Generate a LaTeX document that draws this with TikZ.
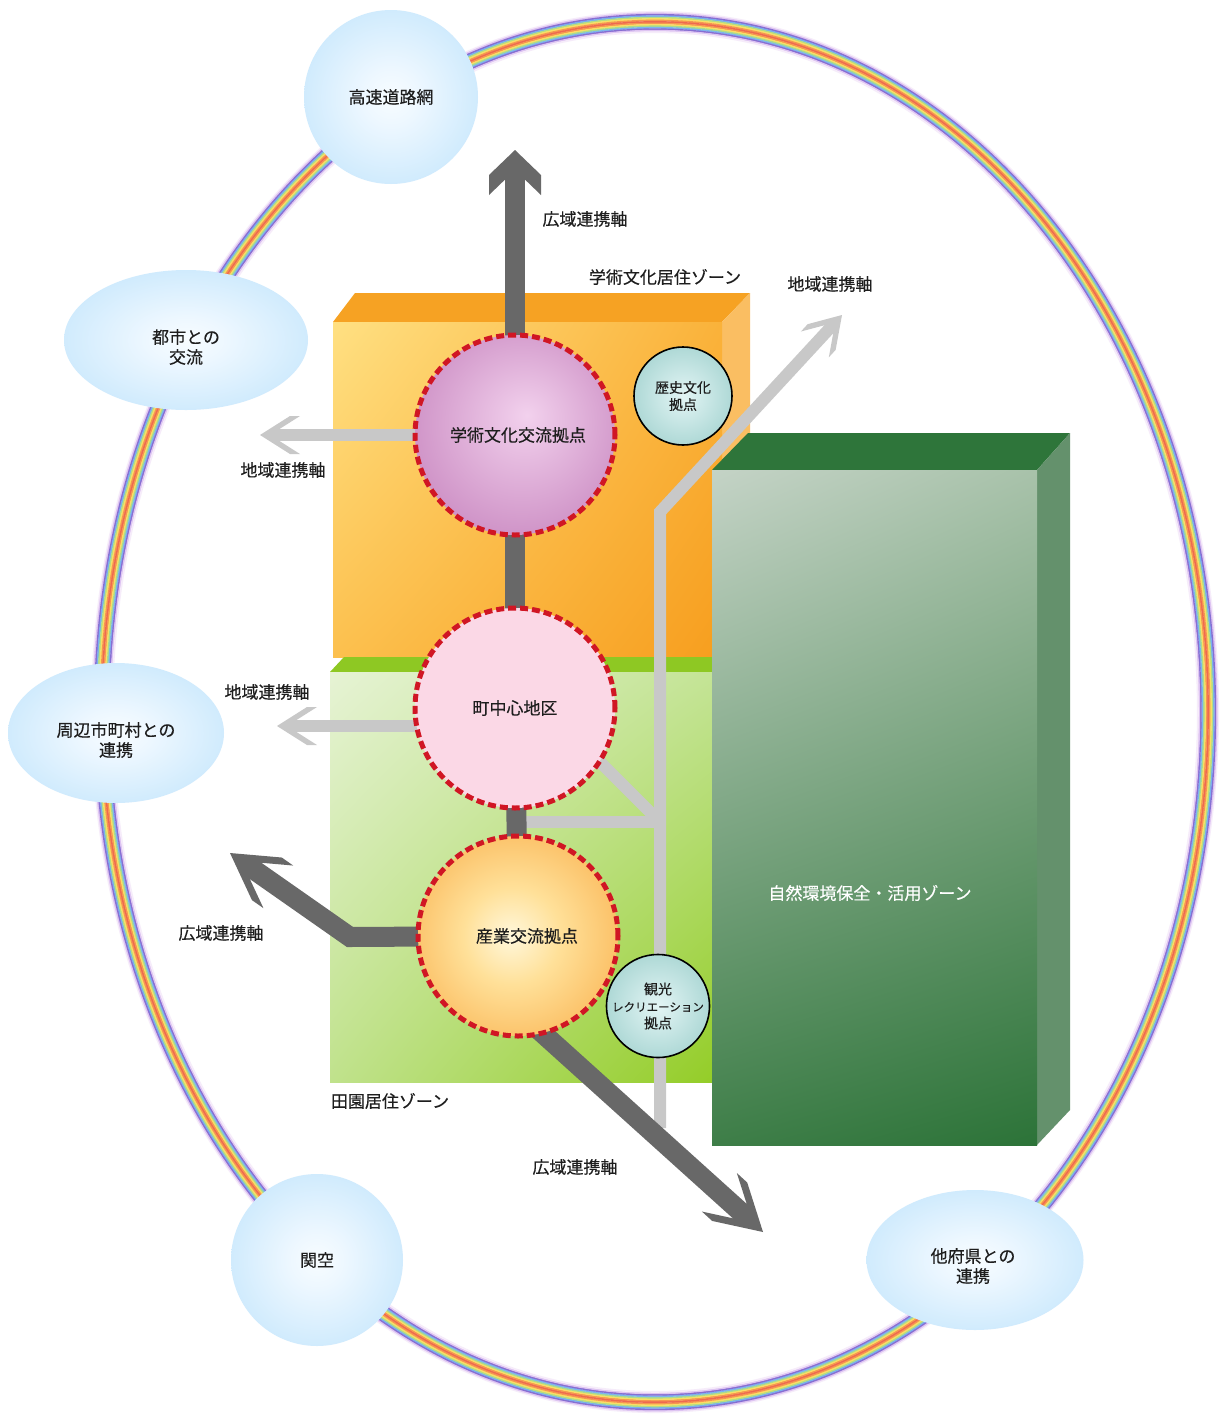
\documentclass[tikz,border=0pt]{standalone}
\usepackage{fontspec}
\setmainfont{Noto Sans CJK JP}[FakeBold=0.3]
\usetikzlibrary{calc,shapes.geometric,shadings}
\pgfdeclarelayer{bg}
\pgfdeclarelayer{lines}
\pgfsetlayers{bg,lines,main}

\definecolor{txt}{RGB}{30,30,30}
\definecolor{axdark}{RGB}{104,104,104}
\definecolor{axlight}{RGB}{200,200,200}
\definecolor{redd}{RGB}{208,22,36}
\definecolor{pinkc}{RGB}{251,216,230}
\definecolor{orTop}{RGB}{246,162,35}
\definecolor{orSide}{RGB}{250,190,98}
\definecolor{orUL}{RGB}{255,224,130}
\definecolor{orUR}{RGB}{250,178,58}
\definecolor{orLL}{RGB}{252,192,78}
\definecolor{orLR}{RGB}{247,158,30}
\definecolor{gfTop}{RGB}{142,200,35}
\definecolor{gfUL}{RGB}{230,243,212}
\definecolor{gfUR}{RGB}{196,228,150}
\definecolor{gfLL}{RGB}{192,226,140}
\definecolor{gfLR}{RGB}{148,205,40}
\definecolor{fTop}{RGB}{46,117,58}
\definecolor{fSide}{RGB}{100,145,108}
\definecolor{fUL}{RGB}{196,211,198}
\definecolor{fUR}{RGB}{168,194,170}
\definecolor{fLL}{RGB}{62,126,72}
\definecolor{fLR}{RGB}{44,115,56}
\definecolor{rb0}{RGB}{246,236,250}
\definecolor{rb1}{RGB}{222,196,242}
\definecolor{rb2}{RGB}{135,110,210}
\definecolor{rb3}{RGB}{120,175,238}
\definecolor{rb4}{RGB}{180,222,130}
\definecolor{rb5}{RGB}{250,222,100}
\definecolor{rb6}{RGB}{246,150,80}
\definecolor{rb7}{RGB}{238,105,80}
\definecolor{rb8}{RGB}{246,150,80}
\definecolor{rb9}{RGB}{250,222,100}
\definecolor{rb10}{RGB}{170,220,140}
\definecolor{rb11}{RGB}{125,180,238}
\definecolor{rb12}{RGB}{135,110,210}
\definecolor{rb13}{RGB}{222,196,242}
\definecolor{rb14}{RGB}{246,236,250}

\pgfdeclareradialshading{satsh}{\pgfpoint{0bp}{0bp}}{rgb(0bp)=(0.97,0.99,1); rgb(8bp)=(0.93,0.97,1); rgb(50bp)=(0.65,0.85,0.98)}
\pgfdeclareradialshading{purpsh}{\pgfpoint{3bp}{5bp}}{rgb(0bp)=(0.95,0.82,0.93); rgb(50bp)=(0.70,0.38,0.66)}
\pgfdeclareradialshading{orsh}{\pgfpoint{-2bp}{0bp}}{rgb(0bp)=(1,0.97,0.86); rgb(12bp)=(1,0.88,0.60); rgb(50bp)=(0.96,0.55,0.08)}
\pgfdeclareradialshading{tealsh}{\pgfpoint{0bp}{0bp}}{rgb(0bp)=(0.89,0.96,0.96); rgb(50bp)=(0.48,0.74,0.72)}

\tikzset{
  sat/.style={shading=satsh, inner sep=0pt, align=center, font=\fontsize{17}{20}\selectfont, text=txt},
  sattext/.style={inner sep=0pt, align=center, font=\fontsize{17}{20}\selectfont, text=txt},
  hub/.style={circle, minimum size=200pt, inner sep=0pt, draw=redd, line width=5pt, dash pattern=on 8pt off 4pt, font=\fontsize{17}{20}\selectfont, text=txt},
  spot/.style={circle, inner sep=0pt, draw=black, line width=1.6pt, shading=tealsh, align=center, font=\fontsize{14}{17}\selectfont, text=txt},
  lbl/.style={inner sep=0pt, font=\fontsize{17}{20}\selectfont, text=txt},
  daxis/.style={draw=axdark, line width=20pt},
  glight/.style={draw=axlight, line width=12pt},
  headT/.pic={\fill[axdark] (0,0) -- (-25,26) -- (-45,26) -- (-29.6,10) -- (-29.6,-10) -- (-45,-26) -- (-25,-26) -- cycle;},
  headD/.pic={\fill[axdark] (0,0) -- (-45,26) -- (-59,26) -- (-31.3,10) -- (-31.3,-10) -- (-59,-26) -- (-45,-26) -- cycle;},
  headG/.pic={\fill[axlight] (0,0) -- (-30,19) -- (-40,19) -- (-19.5,6) -- (-19.5,-6) -- (-40,-19) -- (-30,-19) -- cycle;},
}

\begin{document}
\begin{tikzpicture}[x=1pt,y=-1pt]
\useasboundingbox (0,0) rectangle (1228,1417);

\begin{pgfonlayer}{bg}
  \fill[white] (0,0) rectangle (1228,1417);
  % rainbow ring
  \foreach \c [count=\i] in {rb0,rb1,rb2,rb3,rb4,rb5,rb6,rb7,rb8,rb9,rb10,rb11,rb12,rb13,rb14}{
    \pgfmathsetmacro\rx{553+(8-\i)*1.45}
    \pgfmathsetmacro\ry{690+(8-\i)*1.45}
    \draw[color=\c, line width=1.8pt] (655,712) ellipse [x radius=\rx pt, y radius=\ry pt];
  }
  % orange zone box
  \fill[orTop] (333,322) -- (355,293) -- (750,293) -- (722,322) -- cycle;
  \fill[orSide] (722,322) -- (750,293) -- (750,630) -- (722,657) -- cycle;
  \shade[upper left=orUL, upper right=orUR, lower left=orLL, lower right=orLR] (333,322) rectangle (722,657);
  % green field box
  \fill[gfTop] (330,672) -- (344,657) -- (740,657) -- (726,672) -- cycle;
  \shade[upper left=gfUL, upper right=gfUR, lower left=gfLL, lower right=gfLR] (330,672) rectangle (712,1082);
  % forest box
  \fill[fTop] (712,470) -- (748,433) -- (1070,433) -- (1037,470) -- cycle;
  \fill[fSide] (1037,470) -- (1070,433) -- (1070,1110) -- (1037,1145) -- cycle;
  \shade[upper left=fUL, upper right=fUR, lower left=fLL, lower right=fLR] (712,470) rectangle (1037,1145);
\end{pgfonlayer}

% satellite nodes
\node[sat, circle, minimum size=174pt] (kosoku) at (391,97) {高速道路網};
\node[sat, ellipse, minimum width=244pt, minimum height=140pt] (toshi) at (186,340) {};
\node[sattext] (toshiT) at (186,347) {都市との\\交流};
\node[sat, ellipse, minimum width=216pt, minimum height=140pt] (shuhen) at (116,733) {};
\node[sattext] (shuhenT) at (116,740) {周辺市町村との\\連携};
\node[sat, circle, minimum size=172pt] (kanku) at (317,1260) {関空};
\node[sat, ellipse, minimum width=217pt, minimum height=140pt] (tafuken) at (975,1260) {};
\node[sattext] (tafukenT) at (973,1266) {他府県との\\連携};

% hubs
\node[hub, shading=purpsh] (gak) at (515,435) {\hspace*{6pt}学術文化交流拠点};
\node[hub, fill=pinkc] (machi) at (515,708) {町中心地区};
\node[hub, shading=orsh] (sangyo) at (518,936) {\hspace*{18pt}産業交流拠点};

% spots
\node[spot, minimum size=98pt] (rekishi) at (683,396) {歴史文化\\拠点};
\node[spot, minimum size=94pt] (kanko) at (658,1006) {観光\\{\fontsize{11.5}{17}\selectfont レクリエーション}\\拠点};

% free ends
\coordinate (topTip) at (515,150);
\coordinate (ulBend) at (350,937);
\coordinate (ulTip) at (230,853);
\coordinate (lrTip) at (763,1232);
\coordinate (gbot) at (660,1128);
\coordinate (gbend) at (660,512);
\coordinate (urTip) at (842,315);
\coordinate (junc) at (660,822);
\coordinate (jd) at (585,747);
\coordinate (lTip1) at (260,435);
\coordinate (lTip2) at (277,726);

\begin{pgfonlayer}{lines}
  % regional (light) axes
  \draw[glight, shorten >=14pt] (gbot) -- (gbend) -- (urTip);
  \draw[glight] (junc) -- (jd);
  \draw[glight] (junc) -- (junc -| machi.center);
  \draw[glight, shorten >=14pt] (gak.center) -- (lTip1);
  \draw[glight, shorten >=14pt] (lTip2 -| machi.center) -- (lTip2);
  \pic[rotate=47.3] at (urTip) {headG};
  \pic[rotate=180] at (lTip1) {headG};
  \pic[rotate=180] at (lTip2) {headG};
  % wide-area (dark) axes
  \draw[daxis, shorten >=25pt] (gak.center) -- (topTip);
  \draw[daxis] (gak.center) -- (machi.center);
  \draw[daxis] (machi.center) -- (sangyo.center);
  \draw[daxis, shorten >=25pt] (sangyo.center) -- (ulBend) -- (ulTip);
  \draw[daxis, shorten <=-15pt, shorten >=25pt] (sangyo.-75) -- (lrTip);
  \pic[rotate=90] at (topTip) {headT};
  \pic[rotate=145] at (ulTip) {headD};
  \pic[rotate=-42.3] at (lrTip) {headD};
\end{pgfonlayer}

% labels
\node[lbl] (t1) at (585,219) {広域連携軸};
\node[lbl] (t2) at (665,277) {学術文化居住ゾーン};
\node[lbl] (t3) at (830,284) {地域連携軸};
\node[lbl] (t4) at (283,470) {地域連携軸};
\node[lbl] (t5) at (267,692) {地域連携軸};
\node[lbl] (t6) at (221,933) {広域連携軸};
\node[lbl] (t7) at (390,1101) {田園居住ゾーン};
\node[lbl] (t8) at (575,1167) {広域連携軸};
\node[lbl, text=white] (t9) at (870,893) {自然環境保全・活用ゾーン};
\end{tikzpicture}
\end{document}
